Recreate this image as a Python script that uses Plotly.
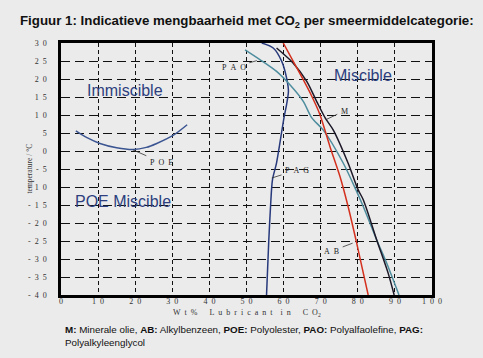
import plotly.graph_objects as go

# ---- data ----
poe_x = [4.0, 7.0, 10.5, 15.0, 19.5, 23.0, 25.8, 30.3, 34.0]
poe_y = [5.6, 3.7, 2.1, 0.9, 0.4, 1.0, 2.1, 4.4, 7.3]

pag_x = [54.1, 57.2, 59.5, 60.8, 61.3, 60.8, 60.1, 58.1, 57.0, 56.5, 56.0, 55.4]
pag_y = [30.0, 28.6, 24.9, 20.3, 16.6, 12.9, 9.2, -3.3, -8.0, -15.0, -25.0, -40.0]

pao_x = [49.6, 53.6, 58.1, 61.7, 65.3, 67.6, 70.7, 76.1, 79.5, 81.5, 85.1, 87.8, 91.1]
pao_y = [28.1, 25.4, 22.1, 18.4, 13.8, 9.2, 5.8, -3.4, -10.8, -15.5, -24.7, -31.2, -40.0]

m_x = [58.1, 62.6, 66.2, 68.9, 71.2, 73.4, 77.4, 80.1, 81.5, 85.1, 88.2, 89.8]
m_y = [28.6, 24.4, 19.4, 13.8, 9.2, 5.8, -3.4, -10.8, -13.6, -24.7, -34.0, -40.0]

ab_x = [59.9, 62.6, 65.3, 67.6, 69.8, 72.5, 75.2, 77.4, 79.7, 81.5, 82.8]
ab_y = [30.0, 24.9, 19.8, 15.2, 10.1, 1.2, -7.1, -15.5, -25.6, -34.0, -40.0]

SP = "\u2002"  # en space, used for the letter-spaced labels of the original

x_ticks = [0, 10, 20, 30, 40, 50, 60, 70, 80, 90, 100]
x_ticktext = ["0", "1 0", "2 0", "3 0", "4 0", "5 0", "6 0", "7 0", "8 0", "9 0", "1 0 0"]
y_ticks = [30, 25, 20, 15, 10, 5, 0, -5, -10, -15, -20, -25, -30, -35, -40]
y_ticktext = ["3 0", "2 5", "2 0", "1 5", "1 0", "5", "0", "- 5", "- 1 0", "- 1 5",
              "- 2 0", "- 2 5", "- 3 0", "- 3 5", "- 4 0"]

# curve labels: text, label position, leader tip
curve_labels = ["P O E", "P A G", "P A O", "M", "A B"]
label_x = [27.0, 63.6, 46.6, 76.3, 73.0]
label_y = [-3.1, -5.3, 23.3, 11.1, -27.8]
tip_x = [19.4, 56.8, 52.8, 71.6, 78.6]
tip_y = [0.3, -7.5, 25.1, 8.8, -25.6]

region_text = ["Immiscible", "Miscible", "POE Miscible"]
region_x = [17.25, 81.4, 16.8]
region_y = [16.7, 21.1, -13.9]

BG = "#ebebeb"
SERIF = "Liberation Serif"
SANS = "Liberation Sans"


def spaced(s):
    return s.replace(" ", SP)


fig = go.Figure()
series = [
    (poe_x, poe_y, "#3b5592"),
    (pag_x, pag_y, "#283a7c"),
    (pao_x, pao_y, "#4e8d9e"),
    (m_x, m_y, "#1c1828"),
    (ab_x, ab_y, "#d4301e"),
]
for xs, ys, c in series:
    fig.add_trace(go.Scatter(x=xs, y=ys, mode="lines",
                             line=dict(color=c, width=1.5, shape="spline", smoothing=0.8),
                             hoverinfo="skip", showlegend=False))

for t, lx, ly, tx, ty in zip(curve_labels, label_x, label_y, tip_x, tip_y):
    fig.add_annotation(x=tx, y=ty, ax=lx, ay=ly, axref="x", ayref="y", xref="x", yref="y",
                       text=spaced(t), showarrow=True, arrowhead=0, arrowwidth=0.8, arrowcolor="#333",
                       font=dict(family=SERIF, size=8, color="#222"), standoff=0, startstandoff=2)

for t, rx, ry in zip(region_text, region_x, region_y):
    fig.add_annotation(x=rx, y=ry, xref="x", yref="y", text=t, showarrow=False,
                       font=dict(family=SANS, size=16, color="#2d3f7e"))

W, H = 483, 358
L, R, T, B = 61, 51, 43, 63
pw, ph = W - L - R, H - T - B


def px(xp):
    return (xp - L) / pw


def py(yp):
    return (H - B - yp) / ph


fig.add_annotation(x=px(18), y=py(21), xref="paper", yref="paper", xanchor="left", yanchor="middle",
                   text="<b>Figuur 1: Indicatieve mengbaarheid met CO<sub>2</sub> per smeermiddelcategorie:</b>",
                   showarrow=False, font=dict(family=SANS, size=13.3, color="#111"))
fig.add_annotation(x=px(63), y=py(322), xref="paper", yref="paper", xanchor="left", yanchor="top", align="left",
                   text="<b>M:</b> Minerale olie, <b>AB:</b> Alkylbenzeen, <b>POE:</b> Polyolester, "
                        "<b>PAO:</b> Polyalfaolefine, <b>PAG:</b><br>Polyalkyleenglycol",
                   showarrow=False, font=dict(family=SANS, size=9.8, color="#111"))
fig.add_annotation(x=0.5, y=py(312.5), xref="paper", yref="paper", xanchor="center", yanchor="middle",
                   text=spaced("W t %   L u b r i c a n t  i n   C O") + "<sub>2</sub>", showarrow=False,
                   font=dict(family=SERIF, size=8, color="#333"))
fig.add_annotation(x=px(22), y=0.5, xref="paper", yref="paper", textangle=-90,
                   text="temperature / °C", showarrow=False,
                   font=dict(family=SERIF, size=7.5, color="#333"))

fig.update_layout(
    width=W, height=H, margin=dict(l=L, r=R, t=T, b=B),
    paper_bgcolor=BG, plot_bgcolor=BG,
    xaxis=dict(range=[0, 100], tickvals=x_ticks, ticktext=[spaced(t) for t in x_ticktext], showgrid=True,
               gridcolor="#111", gridwidth=1, griddash="4px,3px", zeroline=False,
               showline=True, linecolor="#000", linewidth=2.5, mirror=True,
               ticks="", ticklabelstandoff=-3, tickfont=dict(family=SERIF, size=8, color="#333")),
    yaxis=dict(range=[-40, 30], tickvals=y_ticks, ticktext=[spaced(t) for t in y_ticktext], showgrid=True,
               gridcolor="#111", gridwidth=1.4, griddash="9px,5px", zeroline=False,
               showline=True, linecolor="#000", linewidth=2.5, mirror=True,
               ticks="", ticklabelstandoff=10, tickfont=dict(family=SERIF, size=8, color="#333")),
)
fig.write_html("out.html", config={"displayModeBar": False},
               post_script="document.body.style.margin='0';document.body.style.background='#ebebeb';")
